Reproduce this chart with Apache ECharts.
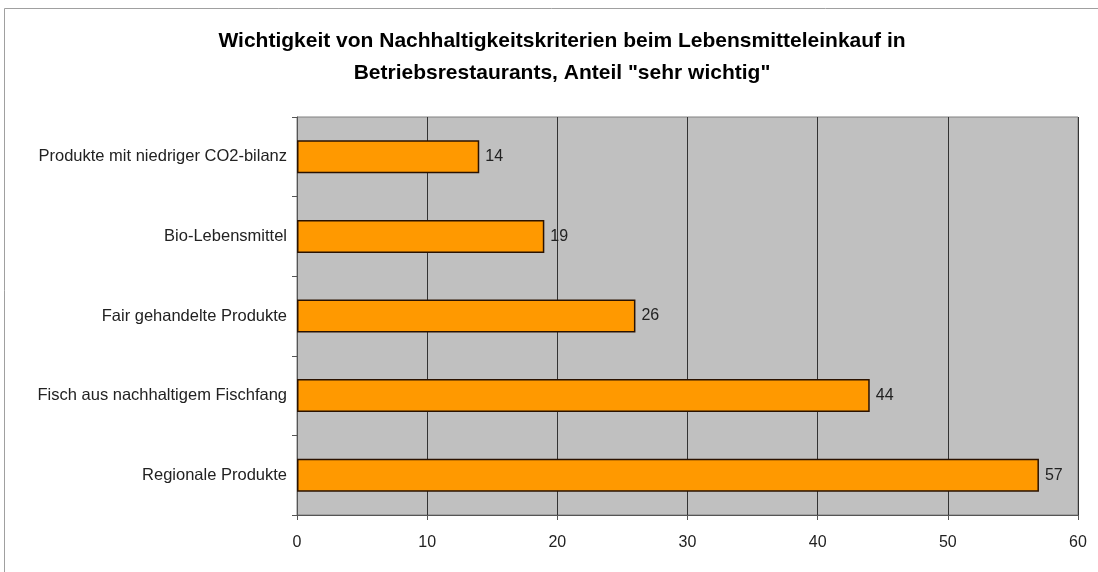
<!DOCTYPE html>
<html>
<head>
<meta charset="utf-8">
<script src="https://cdn.jsdelivr.net/npm/echarts@6/dist/echarts.min.js"></script>
<style>
  html, body { margin: 0; padding: 0; background: #fff; }
  #chart { width: 1098px; height: 572px; }
</style>
</head>
<body>
<div id="chart"></div>
<script>
// Kriterien, von oben nach unten
const categories = [
  'Produkte mit niedriger CO2-bilanz',
  'Bio-Lebensmittel',
  'Fair gehandelte Produkte',
  'Fisch aus nachhaltigem Fischfang',
  'Regionale Produkte'
];
// Anteil "sehr wichtig" in Prozent
const values = [14, 19, 26, 44, 57];
const xTicks = [0, 10, 20, 30, 40, 50, 60];

const font = '"Liberation Sans", Arial, sans-serif';

const chart = echarts.init(document.getElementById('chart'));
chart.setOption({
  animation: false,
  backgroundColor: '#ffffff',
  title: {
    text: 'Wichtigkeit von Nachhaltigkeitskriterien beim Lebensmitteleinkauf in\nBetriebsrestaurants, Anteil "sehr wichtig"',
    left: 557,
    textAlign: 'center',
    top: 20,
    textStyle: {
      fontFamily: font,
      fontSize: 21,
      fontWeight: 'bold',
      color: '#000',
      lineHeight: 32
    }
  },
  graphic: [{
    type: 'rect',
    shape: { x: 4.5, y: 8.5, width: 1200, height: 700 },
    style: { fill: 'none', stroke: '#a0a0a0', lineWidth: 1 },
    silent: true,
    z: 100
  }],
  grid: {
    left: 297, right: 20, top: 117, bottom: 57,
    show: true,
    backgroundColor: '#c0c0c0',
    borderColor: '#808080',
    borderWidth: 1
  },
  xAxis: {
    type: 'value',
    min: xTicks[0],
    max: xTicks[xTicks.length - 1],
    interval: 10,
    axisLine: { show: true, lineStyle: { color: '#555', width: 1 } },
    axisTick: { show: true, length: 5, lineStyle: { color: '#555' } },
    axisLabel: {
      margin: 20,
      fontFamily: font,
      fontSize: 16,
      color: '#222'
    },
    splitLine: { show: true, lineStyle: { color: '#333', width: 1 } }
  },
  yAxis: {
    type: 'category',
    data: categories,
    inverse: true,
    axisLine: { show: true, lineStyle: { color: '#555', width: 1 } },
    axisTick: { show: true, length: 5, lineStyle: { color: '#555' } },
    axisLabel: {
      margin: 10,
      fontFamily: font,
      fontSize: 16.5,
      color: '#222'
    }
  },
  series: [{
    type: 'bar',
    data: values,
    barWidth: 33,
    itemStyle: {
      color: '#ff9900',
      borderColor: '#2a1200',
      borderWidth: 1.5
    },
    label: {
      show: true,
      position: 'right',
      distance: 6,
      fontFamily: font,
      fontSize: 16,
      color: '#222'
    }
  }]
});
</script>
</body>
</html>
